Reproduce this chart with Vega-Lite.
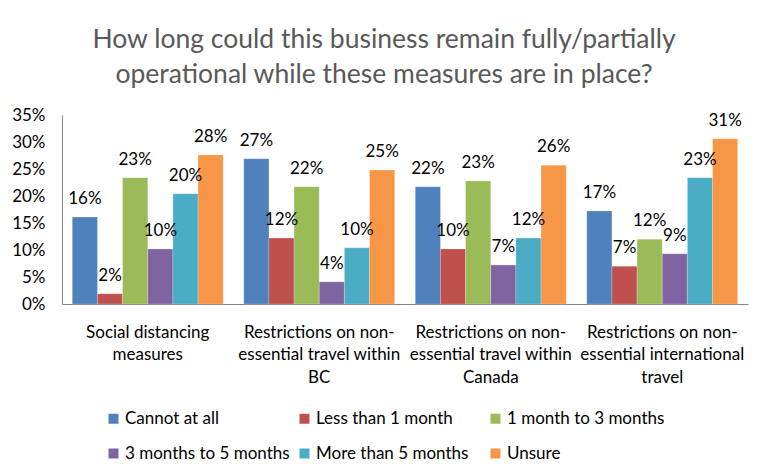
{
  "$schema": "https://vega.github.io/schema/vega-lite/v6.json",
  "autosize": {"type": "none"},
  "width": 686,
  "height": 189,
  "padding": {"left": 62, "top": 115, "right": 14, "bottom": 170},
  "background": "white",
  "title": {
    "text": ["How long could this business remain fully/partially", "operational while these measures are in place?"],
    "font": "Lato",
    "fontSize": 26.5,
    "fontWeight": "normal",
    "color": "#595959",
    "lineHeight": 35,
    "anchor": "middle",
    "frame": "group",
    "dx": -21,
    "offset": 18
  },
  "config": {
    "view": {"stroke": null},
    "font": "Lato",
    "axis": {"grid": false, "ticks": false, "labelFont": "Lato", "labelColor": "#000000", "domainColor": "#868686"}
  },
  "data": {
    "values": [
      {"measure": "Social distancing measures", "duration": "Cannot at all", "share": 0.161},
      {"measure": "Social distancing measures", "duration": "Less than 1 month", "share": 0.019},
      {"measure": "Social distancing measures", "duration": "1 month to 3 months", "share": 0.234},
      {"measure": "Social distancing measures", "duration": "3 months to 5 months", "share": 0.102},
      {"measure": "Social distancing measures", "duration": "More than 5 months", "share": 0.204},
      {"measure": "Social distancing measures", "duration": "Unsure", "share": 0.276},
      {"measure": "Restrictions on non-essential travel within BC", "duration": "Cannot at all", "share": 0.269},
      {"measure": "Restrictions on non-essential travel within BC", "duration": "Less than 1 month", "share": 0.122},
      {"measure": "Restrictions on non-essential travel within BC", "duration": "1 month to 3 months", "share": 0.217},
      {"measure": "Restrictions on non-essential travel within BC", "duration": "3 months to 5 months", "share": 0.041},
      {"measure": "Restrictions on non-essential travel within BC", "duration": "More than 5 months", "share": 0.104},
      {"measure": "Restrictions on non-essential travel within BC", "duration": "Unsure", "share": 0.248},
      {"measure": "Restrictions on non-essential travel within Canada", "duration": "Cannot at all", "share": 0.217},
      {"measure": "Restrictions on non-essential travel within Canada", "duration": "Less than 1 month", "share": 0.102},
      {"measure": "Restrictions on non-essential travel within Canada", "duration": "1 month to 3 months", "share": 0.228},
      {"measure": "Restrictions on non-essential travel within Canada", "duration": "3 months to 5 months", "share": 0.072},
      {"measure": "Restrictions on non-essential travel within Canada", "duration": "More than 5 months", "share": 0.122},
      {"measure": "Restrictions on non-essential travel within Canada", "duration": "Unsure", "share": 0.257},
      {"measure": "Restrictions on non-essential international travel", "duration": "Cannot at all", "share": 0.172},
      {"measure": "Restrictions on non-essential international travel", "duration": "Less than 1 month", "share": 0.070},
      {"measure": "Restrictions on non-essential international travel", "duration": "1 month to 3 months", "share": 0.120},
      {"measure": "Restrictions on non-essential international travel", "duration": "3 months to 5 months", "share": 0.093},
      {"measure": "Restrictions on non-essential international travel", "duration": "More than 5 months", "share": 0.234},
      {"measure": "Restrictions on non-essential international travel", "duration": "Unsure", "share": 0.306}
    ]
  },
  "encoding": {
    "x": {
      "field": "measure",
      "type": "nominal",
      "sort": null,
      "scale": {"paddingInner": 0.12, "paddingOuter": 0.06},
      "axis": {
        "title": null,
        "labelAngle": 0,
        "labelFontSize": 17,
        "labelPadding": 20,
        "labelLineHeight": 22.5,
        "labelLimit": 300,
        "labelExpr": "datum.value == 'Social distancing measures' ? ['Social distancing', 'measures'] : datum.value == 'Restrictions on non-essential travel within BC' ? ['Restrictions on non-', 'essential travel within', 'BC'] : datum.value == 'Restrictions on non-essential travel within Canada' ? ['Restrictions on non-', 'essential travel within', 'Canada'] : ['Restrictions on non-', 'essential international', 'travel']"
      }
    },
    "xOffset": {
      "field": "duration",
      "type": "nominal",
      "sort": ["Cannot at all", "Less than 1 month", "1 month to 3 months", "3 months to 5 months", "More than 5 months", "Unsure"],
      "scale": {"paddingInner": 0, "paddingOuter": 0}
    },
    "y": {
      "field": "share",
      "type": "quantitative",
      "scale": {"domain": [0, 0.35], "nice": false},
      "axis": {"title": null, "format": ".0%", "values": [0, 0.05, 0.1, 0.15, 0.2, 0.25, 0.3, 0.35], "labelFontSize": 17, "labelPadding": 17}
    }
  },
  "layer": [
    {
      "mark": {"type": "bar", "stroke": "#ffffff", "strokeOpacity": 0.35, "strokeWidth": 0.6},
      "encoding": {
        "color": {
          "field": "duration",
          "type": "nominal",
          "sort": ["Cannot at all", "Less than 1 month", "1 month to 3 months", "3 months to 5 months", "More than 5 months", "Unsure"],
          "scale": {"range": ["#4F81BD", "#C0504D", "#9BBB59", "#8064A2", "#4BACC6", "#F79646"]},
          "legend": {
            "title": null,
            "orient": "none",
            "legendX": 43,
            "legendY": 295,
            "direction": "horizontal",
            "columns": 3,
            "gridAlign": "all",
            "columnPadding": 6,
            "rowPadding": 17,
            "symbolType": "square",
            "symbolSize": 100,
            "symbolStrokeWidth": 0,
            "labelOffset": 3,
            "labelFont": "Lato",
            "labelFontSize": 17,
            "labelColor": "#000000",
            "labelLimit": 300
          }
        }
      }
    },
    {
      "mark": {"type": "text", "baseline": "alphabetic", "dy": -13, "fontSize": 17, "color": "#000000", "font": "Lato"},
      "encoding": {
        "text": {"field": "share", "type": "quantitative", "format": ".0%"}
      }
    }
  ]
}
